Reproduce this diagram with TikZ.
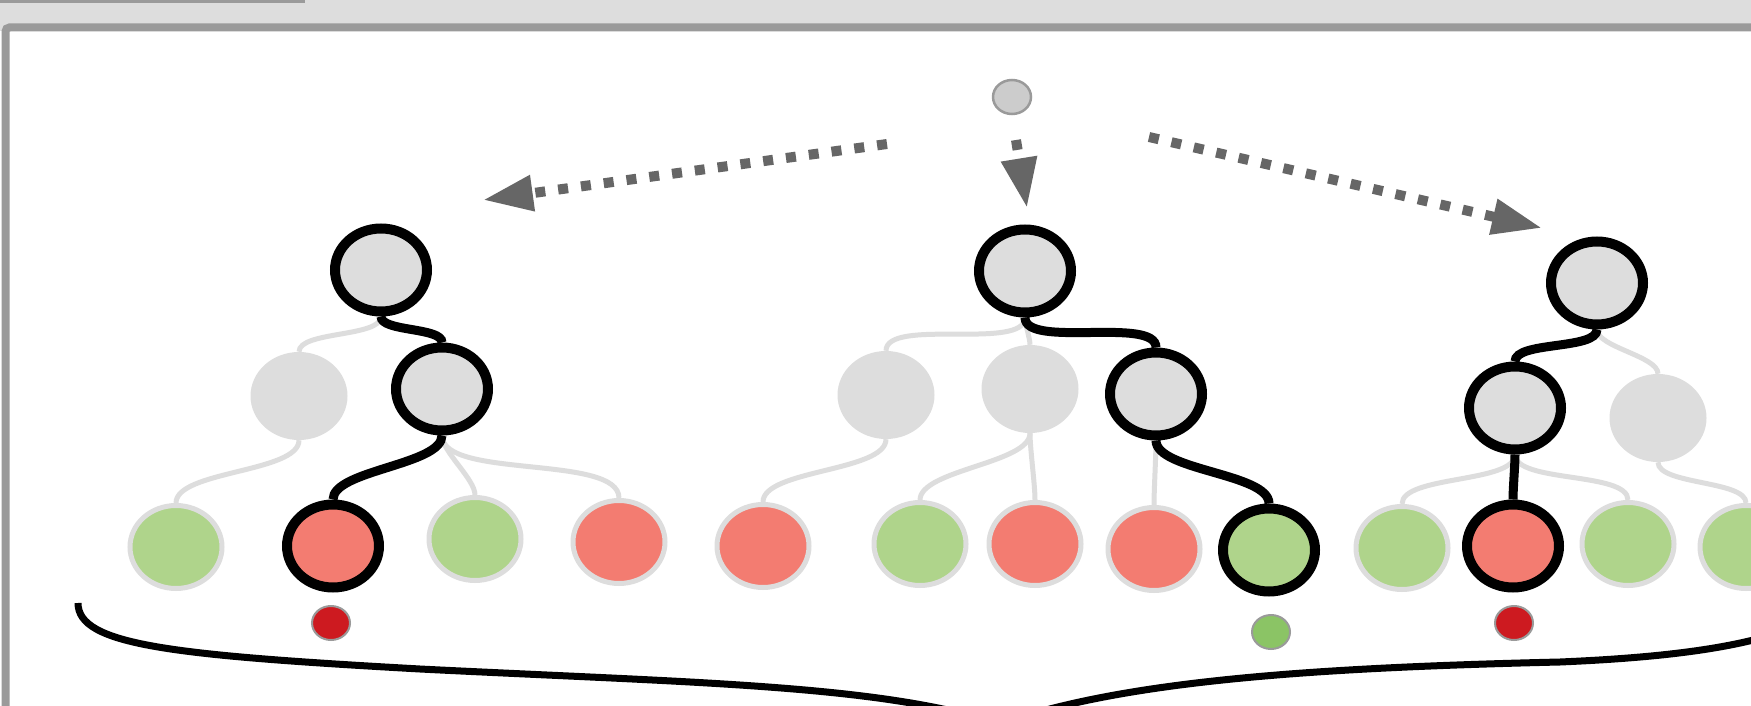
\documentclass[tikz,border=0pt]{standalone}
\usetikzlibrary{shapes.geometric,arrows.meta,backgrounds}
\definecolor{nodegray}{HTML}{DDDDDD}
\definecolor{framegray}{HTML}{9A9A9A}
\definecolor{arrowgray}{HTML}{666666}
\definecolor{seedgray}{HTML}{CCCCCC}
\definecolor{leafgreen}{HTML}{AFD48B}
\definecolor{leafred}{HTML}{F37C71}
\definecolor{dotred}{HTML}{CD1A20}
\definecolor{dotgreen}{HTML}{8BC465}
\tikzset{
  inner/.style={ellipse, fill=nodegray, minimum width=97pt, minimum height=88pt, inner sep=0pt},
  leaf/.style={ellipse, draw=nodegray, line width=5pt, minimum width=92pt, minimum height=83pt, inner sep=0pt},
  goodleaf/.style={leaf, fill=leafgreen},
  badleaf/.style={leaf, fill=leafred},
  picked/.style={draw=black, line width=10pt, minimum width=92pt, minimum height=83pt},
  outcome/.style={ellipse, draw=framegray, line width=2pt, minimum width=38pt, minimum height=34pt, inner sep=0pt},
  branch/.style={draw=nodegray, line width=5pt, out=-90, in=90, looseness=0.6},
  trace/.style={draw=black, line width=9pt, out=-90, in=90, looseness=0.6},
  hint/.style={draw=arrowgray, line width=10pt, dash pattern=on 10pt off 13pt,
    -{Triangle[length=50pt, width=34pt]}},
}
\begin{document}
\begin{tikzpicture}[x=1pt, y=-1pt]
\useasboundingbox (0,0) rectangle (1751,706);
\clip (0,0) rectangle (1751,706);

% start state and the three rollouts
\node[outcome, fill=seedgray, line width=2.5pt] (start) at (1012,97) {};
\coordinate (fromL) at (887,144);
\coordinate (tipL) at (483,200);
\coordinate (fromM) at (1016,140);
\coordinate (tipM) at (1027,208);
\coordinate (fromR) at (1149,137);
\coordinate (tipR) at (1542,228);
\draw[hint] (fromL) -- (tipL);
\draw[hint] (fromM) -- (tipM);
\draw[hint] (fromR) -- (tipR);

% left tree
\node[inner, picked] (Lroot) at (381,270) {};
\node[inner] (La) at (299,396) {};
\node[inner, picked] (Lb) at (442,389) {};
\node[goodleaf] (L1) at (176,547) {};
\node[badleaf, picked] (L2) at (333,546) {};
\node[goodleaf] (L3) at (475,539) {};
\node[badleaf] (L4) at (619,542) {};
\node[outcome, fill=dotred] (Ldot) at (331,623) {};

% middle tree
\node[inner, picked] (Mroot) at (1025,271) {};
\node[inner] (Ma) at (886,395) {};
\node[inner] (Mb) at (1030,389) {};
\node[inner, picked] (Mc) at (1156,394) {};
\node[badleaf] (M1) at (763,546) {};
\node[goodleaf] (M2) at (920,544) {};
\node[badleaf] (M3) at (1035,544) {};
\node[badleaf] (M4) at (1154,549) {};
\node[goodleaf, picked] (M5) at (1269,550) {};
\node[outcome, fill=dotgreen] (Mdot) at (1271,632) {};

% right tree
\node[inner, picked] (Rroot) at (1597,283) {};
\node[inner, picked] (Rb) at (1515,408) {};
\node[inner] (Ra) at (1658,418) {};
\node[goodleaf] (R1) at (1402,548) {};
\node[badleaf, picked] (R2) at (1513,546) {};
\node[goodleaf] (R3) at (1628,544) {};
\node[goodleaf] (R4) at (1746,547) {};
\node[outcome, fill=dotred] (Rdot) at (1514,623) {};

\begin{scope}[on background layer]
% window frame
\fill[nodegray] (0,0) rectangle (1751,31);
\fill[framegray] (0,0) rectangle (305,2.7);
\fill[white] (9,31) rectangle (1751,706);
\draw[framegray, line width=8pt, rounded corners=4pt] (5.5,720) -- (5.5,27.5) -- (1760,27.5);
% unused branches
\draw[branch] (Lroot.south) to (La.north);
\draw[branch] (La.south) to (L1.north);
\draw[branch] (Lb.south) to (L3.north);
\draw[branch] (Lb.south) to (L4.north);
\draw[branch] (Mroot.south) to (Ma.north);
\draw[branch] (Mroot.south) to (Mb.north);
\draw[branch] (Ma.south) to (M1.north);
\draw[branch] (Mb.south) to (M2.north);
\draw[branch] (Mb.south) to (M3.north);
\draw[branch] (Mc.south) to (M4.north);
\draw[branch] (Rroot.south) to (Ra.north);
\draw[branch] (Rb.south) to (R1.north);
\draw[branch] (Rb.south) to (R3.north);
\draw[branch] (Ra.south) to (R4.north);
% sampled paths
\draw[trace] (Lroot.south) to (Lb.north);
\draw[trace] (Lb.south) to (L2.north);
\draw[trace] (Mroot.south) to (Mc.north);
\draw[trace] (Mc.south) to (M5.north);
\draw[trace] (Rroot.south) to (Rb.north);
\draw[trace] (Rb.south) to (R2.north);
\end{scope}

% brace under the leaves
\draw[line width=7pt] (78,603) .. controls (78,645) and (170,655) .. (420,669)
  .. controls (700,683) and (880,685) .. (1000,724)
  .. controls (1120,682) and (1300,668) .. (1560,662)
  .. controls (1700,656) and (1810,640) .. (1850,590);
\end{tikzpicture}
\end{document}
